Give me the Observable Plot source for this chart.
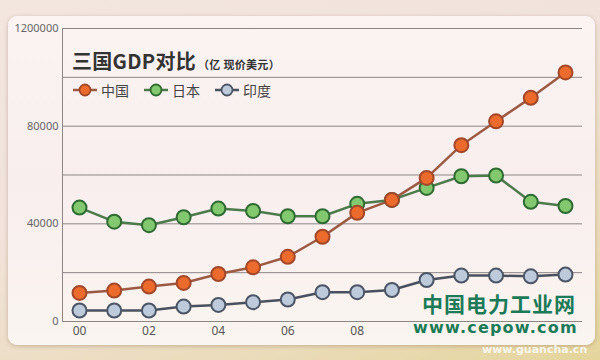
<!DOCTYPE html>
<html><head><meta charset="utf-8">
<script src="https://cdn.jsdelivr.net/npm/d3@7"></script>
<script src="https://cdn.jsdelivr.net/npm/@observablehq/plot@0.6"></script>
<style>
html,body{margin:0;padding:0;}
body{width:600px;height:360px;overflow:hidden;position:relative;
 background:linear-gradient(160deg,#f3e6df 0%,#f1e3dc 40%,#eadbb8 80%,#e4d59c 100%);
 font-family:"Noto Sans CJK SC","Noto Sans",sans-serif;}
#card{position:absolute;left:8px;top:16px;width:587px;height:329px;border-radius:9px;
 background:linear-gradient(180deg,#fbf4f3 0%,#f8eeee 50%,#faf5f0 100%);box-shadow:0 1px 4px rgba(120,90,60,0.35);}
#chart{position:absolute;left:0;top:0;}
#title{position:absolute;left:72px;top:46px;font-weight:bold;font-size:20px;color:#333;white-space:nowrap;letter-spacing:0.3px;}
#title span{font-size:11px;font-weight:bold;color:#333;margin-left:2px;}
#legend{position:absolute;left:72px;top:80px;display:flex;gap:14px;font-size:14px;color:#444;}
#legend .it{display:flex;align-items:center;gap:3px;}
.wm1{position:absolute;left:422px;top:288px;font-size:21px;font-weight:bold;color:#1b7a58;letter-spacing:1px;white-space:nowrap;}
.wm2{position:absolute;left:413px;top:318px;font-size:16px;font-weight:bold;color:#1b7a58;letter-spacing:1.2px;white-space:nowrap;font-family:"DejaVu Sans",sans-serif;}
.wm3{position:absolute;left:482px;top:343px;font-size:11px;font-weight:bold;color:rgba(255,255,255,0.8);white-space:nowrap;font-family:"DejaVu Sans",sans-serif;}
</style></head>
<body>
<div id="card"></div>
<div id="chart"></div>
<div id="title">三国GDP对比<span>（亿 现价美元）</span></div>
<div id="legend"></div>
<div class="wm1">中国电力工业网</div>
<div class="wm2">www.cepow.com</div>
<div class="wm3">www.guancha.cn</div>
<script>
const years = [2000,2001,2002,2003,2004,2005,2006,2007,2008,2009,2010,2011,2012,2013,2014];
const china = [11700,12650,14300,15800,19450,22200,26500,34700,44500,49800,58800,72200,82000,91600,102000];
const japan = [46650,40900,39450,42700,46250,45300,43100,43100,48200,49800,54700,59500,59800,49000,47300];
const india = [4500,4500,4500,6100,6800,7900,9000,12000,12000,12900,17000,18800,18800,18500,19200];
const seriesNames = ["中国","日本","印度"];
const xTicks = [2000,2002,2004,2006,2008];
const xTickLabels = ["00","02","04","06","08"];
const yTicks = [0,40000,80000,120000];
const yTickLabels = ["0","40000","80000","1200000"];
const gridValues = [0,20000,40000,60000,80000,100000,120000];

const styles = {
  "中国": {fill:"#ec6a2c", stroke:"#a2482a", line:"#9c5a44"},
  "日本": {fill:"#82c86e", stroke:"#2f6a32", line:"#4c7a4c"},
  "印度": {fill:"#bccadb", stroke:"#4b5565", line:"#4a515e"}
};
const valuesBy = {"中国":china,"日本":japan,"印度":india};
const data = seriesNames.flatMap(s => years.map((y,i)=>({series:s, year:y, value:valuesBy[s][i]})));

const marks = [
  Plot.ruleY(gridValues, {stroke:"#8e8585", strokeWidth:1}),
  Plot.ruleX([1999.51], {y1:0, y2:120000, stroke:"#8e8585", strokeWidth:1}),
  Plot.axisY(yTicks, {tickSize:0, tickPadding:4, fontSize:11, fill:"#666", label:null, tickFormat:(d)=>yTickLabels[yTicks.indexOf(d)]}),
  Plot.axisX(xTicks, {tickSize:0, tickPadding:5, fontSize:12, fill:"#555", label:null, tickFormat:(d)=>xTickLabels[xTicks.indexOf(d)]})
];
for (const s of seriesNames) {
  const d = data.filter(r=>r.series===s);
  marks.push(Plot.line(d, {x:"year", y:"value", stroke:styles[s].line, strokeWidth:2.5}));
}
for (const s of ["印度","日本","中国"]) {
  const d = data.filter(r=>r.series===s);
  marks.push(Plot.dot(d, {x:"year", y:"value", r:7, fill:styles[s].fill, stroke:styles[s].stroke, strokeWidth:2}));
}
const chart = Plot.plot({
  width:600, height:360,
  marginLeft:62, marginRight:18, marginTop:28, marginBottom:39,
  style:{background:"transparent", fontFamily:"'Noto Sans','DejaVu Sans',sans-serif"},
  x:{domain:[1999.51,2014.49], axis:null, label:null},
  y:{domain:[0,120000], axis:null, label:null},
  marks
});
document.getElementById("chart").appendChild(chart);

const leg = document.getElementById("legend");
for (const s of seriesNames) {
  const st = styles[s];
  const it = document.createElement("div"); it.className="it";
  it.innerHTML = `<svg width="26" height="16"><line x1="1" y1="8" x2="25" y2="8" stroke="${st.line}" stroke-width="2.5"/><circle cx="13" cy="8" r="5.5" fill="${st.fill}" stroke="${st.stroke}" stroke-width="1.8"/></svg><span>${s}</span>`;
  leg.appendChild(it);
}
</script>
</body></html>
